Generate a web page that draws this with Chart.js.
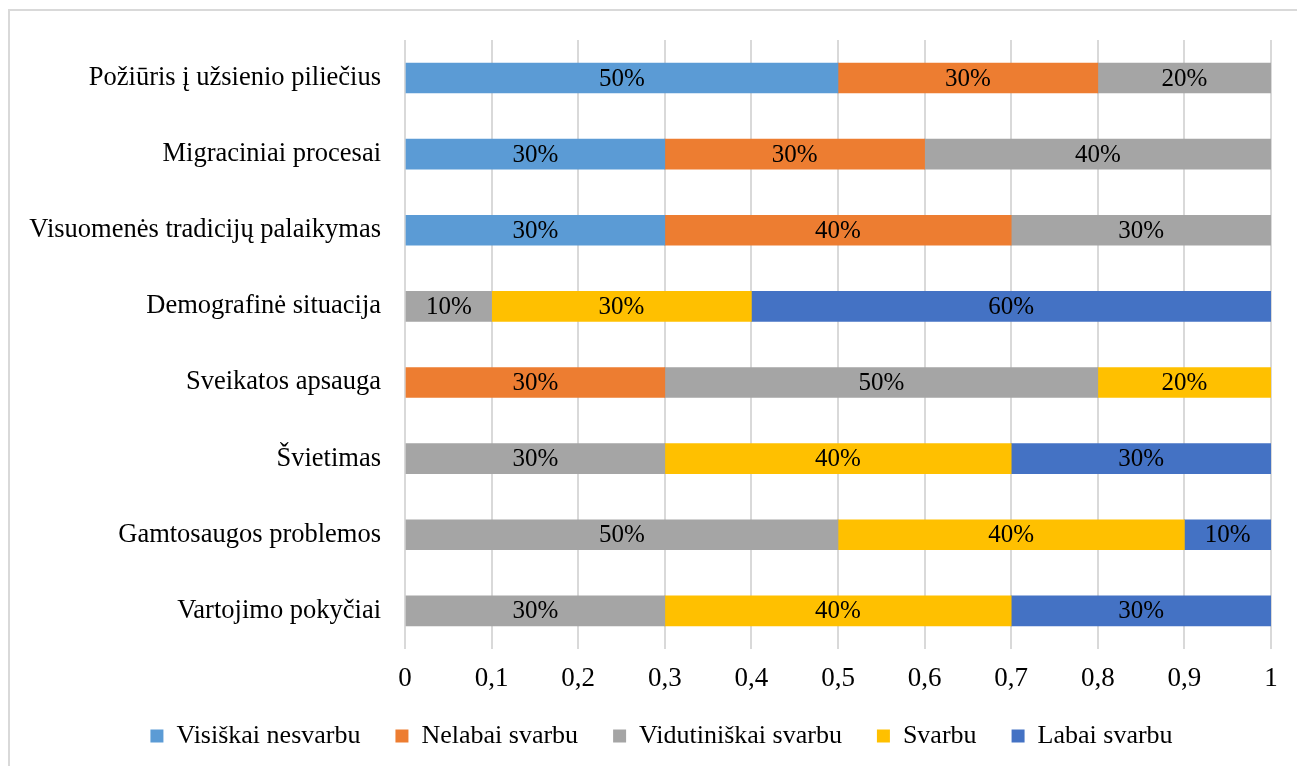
<!DOCTYPE html>
<html>
<head>
<meta charset="utf-8">
<script src="https://cdn.jsdelivr.net/npm/chart.js@4"></script>
<style>
    html, body { margin: 0; padding: 0; background: #ffffff; overflow: hidden; }
    #frame {
        position: absolute; left: 8px; top: 9px;
        width: 1300px; height: 770px;
        border: 2px solid #d9d9d9;
    }
    #wrap { position: absolute; left: 0; top: 0; width: 1297px; height: 766px; }
</style>
</head>
<body>
<div id="frame"></div>
<div id="wrap"><canvas id="chart"></canvas></div>
<script>
// Svarbos vertinimas - horizontali sudėtinė juosta

const categories = [
    'Požiūris į užsienio piliečius',
    'Migraciniai procesai',
    'Visuomenės tradicijų palaikymas',
    'Demografinė situacija',
    'Sveikatos apsauga',
    'Švietimas',
    'Gamtosaugos problemos',
    'Vartojimo pokyčiai'
];

// null = no bar segment for that category
const visiskaiNesvarbu   = [0.5, 0.3, 0.3, null, null, null, null, null];
const nelabaiSvarbu      = [0.3, 0.3, 0.4, null, 0.3, null, null, null];
const vidutiniskaiSvarbu = [0.2, 0.4, 0.3, 0.1, 0.5, 0.3, 0.5, 0.3];
const svarbu             = [null, null, null, 0.3, 0.2, 0.4, 0.4, 0.4];
const labaiSvarbu        = [null, null, null, 0.6, null, 0.3, 0.1, 0.3];

const xTicks = [0, 0.1, 0.2, 0.3, 0.4, 0.5, 0.6, 0.7, 0.8, 0.9, 1];

const fontFamily = '"Liberation Serif", "Times New Roman", serif';

function fmtTick(v) {
    if (v === 0) return '0';
    if (v === 1) return '1';
    return v.toFixed(1).replace('.', ',');
}

// Draw percentages in the middle of each segment
const barLabels = {
    id: 'barLabels',
    afterDatasetsDraw(chart) {
        const { ctx } = chart;
        ctx.save();
        ctx.font = '25px ' + fontFamily;
        ctx.fillStyle = '#000000';
        ctx.textAlign = 'center';
        ctx.textBaseline = 'middle';
        chart.data.datasets.forEach((ds, i) => {
            const meta = chart.getDatasetMeta(i);
            meta.data.forEach((bar, j) => {
                const val = ds.data[j];
                if (val === null || val === undefined) return;
                const cx = (bar.x + bar.base) / 2;
                ctx.fillText(Math.round(val * 100) + '%', cx, bar.y + 1);
            });
        });
        ctx.restore();
    }
};

// Legend: fixed height, nudged right and up a bit (it sits off-centre in the original)
const legendPlace = {
    id: 'legendPlace',
    beforeInit(chart) {
        const originalFit = chart.legend.fit;
        chart.legend.fit = function fit() {
            originalFit.bind(chart.legend)();
            this.height = 65;
        };
    },
    afterLayout(chart) {
        const lg = chart.legend;
        lg.left += 26;
        lg.right += 26;
        lg.top -= 13;
        lg.bottom -= 13;
    }
};

const mkSet = (label, data, color) => ({
    label: label,
    data: data,
    backgroundColor: color,
    borderWidth: 0,
    barThickness: 30
});

new Chart(document.getElementById('chart'), {
    type: 'bar',
    data: {
        labels: categories,
        datasets: [
            mkSet('Visiškai nesvarbu', visiskaiNesvarbu, '#5b9bd5'),
            mkSet('Nelabai svarbu', nelabaiSvarbu, '#ed7d31'),
            mkSet('Vidutiniškai svarbu', vidutiniskaiSvarbu, '#a5a5a5'),
            mkSet('Svarbu', svarbu, '#ffc000'),
            mkSet('Labai svarbu', labaiSvarbu, '#4472c4')
        ]
    },
    plugins: [barLabels, legendPlace],
    options: {
        indexAxis: 'y',
        responsive: true,
        maintainAspectRatio: false,
        animation: false,
        layout: {
            padding: { top: 39, right: 26, left: 0, bottom: 0 }
        },
        plugins: {
            legend: {
                display: true,
                position: 'bottom',
                labels: {
                    color: '#000000',
                    boxWidth: 13,
                    boxHeight: 13,
                    padding: 35,
                    font: { family: fontFamily, size: 26 }
                }
            },
            tooltip: { enabled: false }
        },
        scales: {
            x: {
                stacked: true,
                min: 0,
                max: 1,
                afterBuildTicks: (scale) => {
                    scale.ticks = xTicks.map(v => ({ value: v }));
                },
                afterFit: (scale) => { scale.height = 52; },
                grid: { color: '#d9d9d9', lineWidth: 2, drawTicks: false },
                border: { display: false },
                ticks: {
                    color: '#000000',
                    padding: 14,
                    maxRotation: 0,
                    font: { family: fontFamily, size: 27 },
                    callback: (v) => fmtTick(v)
                }
            },
            y: {
                stacked: true,
                afterFit: (scale) => { scale.width = 405; },
                grid: { display: false, drawTicks: false },
                border: { display: false },
                ticks: {
                    color: '#000000',
                    padding: 24,
                    font: { family: fontFamily, size: 26.5 }
                }
            }
        }
    }
});
</script>
</body>
</html>
